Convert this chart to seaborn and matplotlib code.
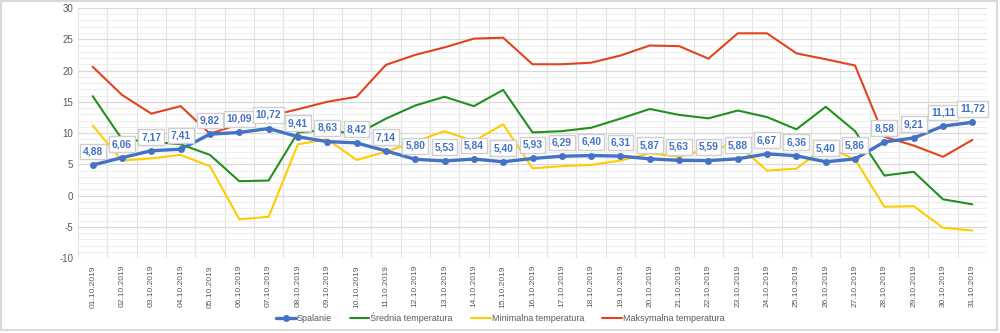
import numpy as np
import pandas as pd
import matplotlib
matplotlib.use("Agg")
import matplotlib.pyplot as plt
import seaborn as sns
from matplotlib.ticker import MultipleLocator

dates = [f"{d:02d}.10.2019" for d in range(1, 32)]
spalanie = [4.88, 6.06, 7.17, 7.41, 9.82, 10.09, 10.72, 9.41, 8.63, 8.42, 7.14, 5.80, 5.53, 5.84, 5.40,
            5.93, 6.29, 6.40, 6.31, 5.87, 5.63, 5.59, 5.88, 6.67, 6.36, 5.40, 5.86, 8.58, 9.21, 11.11, 11.72]
srednia = [15.9, 9.0, 8.6, 8.2, 6.5, 2.3, 2.4, 10.1, 10.5, 9.8, 12.3, 14.4, 15.8, 14.3, 16.9,
           10.1, 10.3, 10.85, 12.3, 13.85, 12.9, 12.35, 13.6, 12.55, 10.6, 14.2, 10.3, 3.2, 3.8, -0.6, -1.4]
minimalna = [11.2, 5.6, 5.95, 6.5, 4.7, -3.8, -3.4, 8.2, 9.0, 5.7, 7.0, 8.6, 10.3, 8.7, 11.4,
             4.35, 4.7, 4.9, 5.6, 6.75, 6.2, 7.5, 8.1, 4.0, 4.3, 7.8, 5.8, -1.8, -1.7, -5.15, -5.6]
maksymalna = [20.6, 16.1, 13.1, 14.3, 9.9, 11.4, 12.7, 13.8, 15.0, 15.8, 20.9, 22.5, 23.7, 25.1, 25.25,
              21.0, 21.0, 21.25, 22.4, 24.0, 23.9, 21.9, 25.95, 25.95, 22.75, 21.8, 20.8, 9.4, 8.0, 6.2, 8.9]

series_names = ["Spalanie", "Średnia temperatura", "Minimalna temperatura", "Maksymalna temperatura"]
colors = {"Spalanie": "#4472C4", "Średnia temperatura": "#22901E",
          "Minimalna temperatura": "#FFCC00", "Maksymalna temperatura": "#E0441C"}

idx = np.arange(len(dates))
df = pd.DataFrame({"x": np.tile(idx, 4),
                   "value": spalanie + srednia + minimalna + maksymalna,
                   "series": np.repeat(series_names, len(dates))})

sns.set_style("white")
plt.rcParams['font.family'] = ['Liberation Sans', 'DejaVu Sans']
plt.rcParams['axes.unicode_minus'] = False

fig = plt.figure(figsize=(10, 3.33), dpi=100)
ax = fig.add_axes([0.078, 0.225, 0.909, 0.751])

order_draw = ["Maksymalna temperatura", "Średnia temperatura", "Minimalna temperatura"]
for name in order_draw:
    sns.lineplot(data=df[df.series == name], x="x", y="value", color=colors[name], lw=1.5,
                 ax=ax, label=name, zorder=3)
sns.lineplot(data=df[df.series == "Spalanie"], x="x", y="value", color=colors["Spalanie"], lw=2.4,
             marker="o", markersize=5, markeredgewidth=0, ax=ax, label="Spalanie", zorder=4)

for i, v in enumerate(spalanie):
    ax.annotate(f"{v:.2f}".replace(".", ","), (i, v), xytext=(0, 9.8), textcoords="offset points",
                ha="center", va="center", fontsize=7.4, fontweight="bold", color="#4472C4", zorder=6,
                bbox=dict(boxstyle="square,pad=0.28", fc="white", ec="#D0D0D0", lw=1))

ax.set_xlim(-0.5, len(dates) - 0.5)
ax.set_ylim(-10, 30)
ax.yaxis.set_major_locator(MultipleLocator(5))
ax.yaxis.set_minor_locator(MultipleLocator(1))
ax.set_xticks(idx)
ax.set_xticklabels(dates, rotation=90, fontsize=6, color="#595959")
ax.set_xticks(np.arange(-0.5, len(dates), 1), minor=True)
ax.tick_params(axis="y", labelsize=7, colors="#595959", length=0, which="both")
ax.tick_params(axis="x", length=0, which="both", pad=5)
ax.grid(True, which="major", axis="y", color="#D9D9D9", lw=0.9, zorder=0)
ax.grid(True, which="minor", axis="y", color="#EDEDED", lw=0.7, zorder=0)
ax.grid(True, which="minor", axis="x", color="#E3E3E3", lw=0.8, zorder=0)
ax.grid(False, which="major", axis="x")
ax.set_xlabel("")
ax.set_ylabel("")
for s in ax.spines.values():
    s.set_visible(False)

h, l = ax.get_legend_handles_labels()
ax.get_legend().remove()
lut = dict(zip(l, h))
fig.legend([lut[n] for n in series_names], series_names, loc="center", bbox_to_anchor=(0.5, 0.045),
           ncol=4, frameon=False, fontsize=6.5, labelcolor="#595959", handlelength=2.2,
           columnspacing=2.0, handletextpad=0.1)

fig.patches.append(plt.Rectangle((0.001, 0.008), 0.996, 0.99, transform=fig.transFigure,
                                 fill=False, ec="#D9D9D9", lw=1.5))
fig.savefig("out.png", dpi=100)
